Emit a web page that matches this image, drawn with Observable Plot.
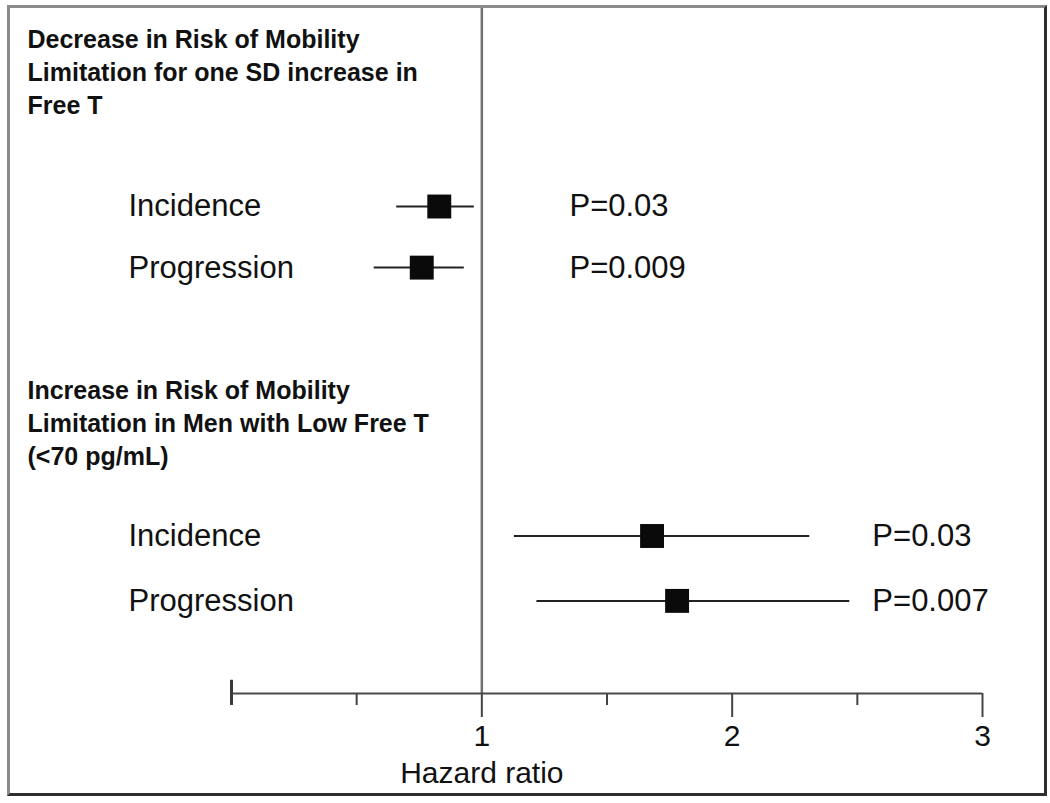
<!DOCTYPE html>
<html><head><meta charset="utf-8">
<script src="https://cdn.jsdelivr.net/npm/d3@7"></script>
<script src="https://cdn.jsdelivr.net/npm/@observablehq/plot@0.6"></script>
<style>
html,body{margin:0;padding:0;background:#fff;}
#wrap{position:relative;width:1050px;height:803px;overflow:hidden;}
#border{position:absolute;left:7px;top:5px;width:1040px;height:791px;box-sizing:border-box;border-style:solid;border-width:3px;border-color:#8a8a8a #2e2e2e #2e2e2e #8a8a8a;pointer-events:none;}
</style></head><body><div id="wrap"><div id="border"></div></div>
<script>
// ---- data ----
const groupTitles = [
  "Decrease in Risk of Mobility\nLimitation for one SD increase in\nFree T",
  "Increase in Risk of Mobility\nLimitation in Men with Low Free T\n(<70 pg/mL)"
];
const outcomes = ["Incidence", "Progression", "Incidence", "Progression"];
const groupIndex = [0, 0, 1, 1];
const hazardRatio = [0.83, 0.76, 1.68, 1.78];
const ciLower = [0.66, 0.57, 1.13, 1.22];
const ciUpper = [0.97, 0.93, 2.31, 2.47];
const pValues = ["P=0.03", "P=0.009", "P=0.03", "P=0.007"];
const majorTicks = [1, 2, 3];
const minorTicks = [0.5, 1.5, 2.5];
const originTick = [0];
const axisLabel = "Hazard ratio";

// ---- layout (row slots on the vertical scale, not data) ----
const rowSlot = [3.27, 4.24, 8.5, 9.53];
const titleSlot = [0.39, 5.95];
const pSlotX = [1.35, 1.35, 2.56, 2.56];
const ySlots = 11;
const topSlot = 0.1;

const sans = "'Liberation Sans', Arial, sans-serif";
const idx = d3.range(outcomes.length);

const chart = Plot.plot({
  width: 1050,
  height: 803,
  marginLeft: 231,
  marginRight: 68,
  marginTop: 0,
  marginBottom: 110,
  style: {background: "transparent", fontFamily: sans, overflow: "visible"},
  x: {domain: [0, 3], label: null},
  y: {domain: [0, ySlots], reverse: true, axis: null, label: null},
  marks: [
    // reference line at HR = 1
    Plot.ruleX([1], {y1: topSlot, y2: ySlots, stroke: "#707070", strokeWidth: 2.5}),
    // axis baseline
    Plot.ruleY([{y: ySlots, x1: 0, x2: 3}], {y: "y", x1: "x1", x2: "x2", stroke: "#4a4a4a", strokeWidth: 2}),
    // origin tick (crosses the baseline)
    Plot.ruleX(originTick, {y1: ySlots - 0.21, y2: ySlots + 0.19, stroke: "#3a3a3a", strokeWidth: 3}),
    Plot.axisX(minorTicks, {tickSize: 12, tickFormat: () => "", stroke: "#444", strokeWidth: 2, label: null}),
    Plot.axisX(majorTicks, {tickSize: 24, tickPadding: 7, tickFormat: d => String(d), stroke: "#444", strokeWidth: 2,
      fill: "#111", fontSize: 30, fontFamily: sans, label: null}),
    Plot.text([axisLabel], {x: () => 1, frameAnchor: "bottom", lineAnchor: "top", dy: 68,
      fontSize: 30, fontFamily: sans, fill: "#111"}),
    // group headings
    Plot.text(groupTitles, {y: (d, i) => titleSlot[i], frameAnchor: "left", dx: -204, textAnchor: "start",
      lineAnchor: "top", lineHeight: 1.32, fontSize: 25, fontWeight: "bold", fill: "#111", fontFamily: sans}),
    // row labels
    Plot.text(idx, {y: i => rowSlot[i], text: i => outcomes[i], frameAnchor: "left", dx: -103,
      textAnchor: "start", fontSize: 31, fill: "#111", fontFamily: sans}),
    // confidence intervals
    Plot.ruleY(idx, {y: i => rowSlot[i], x1: i => ciLower[i], x2: i => ciUpper[i], stroke: "#222", strokeWidth: 2}),
    // point estimates
    Plot.dot(idx, {x: i => hazardRatio[i], y: i => rowSlot[i], symbol: "square", r: 13.5, fill: "#0a0a0a", stroke: "none"}),
    // p values
    Plot.text(idx, {x: i => pSlotX[i], y: i => rowSlot[i], text: i => pValues[i], textAnchor: "start",
      fontSize: 31, fill: "#111", fontFamily: sans})
  ]
});
document.getElementById("wrap").prepend(chart);
</script>
</body></html>
